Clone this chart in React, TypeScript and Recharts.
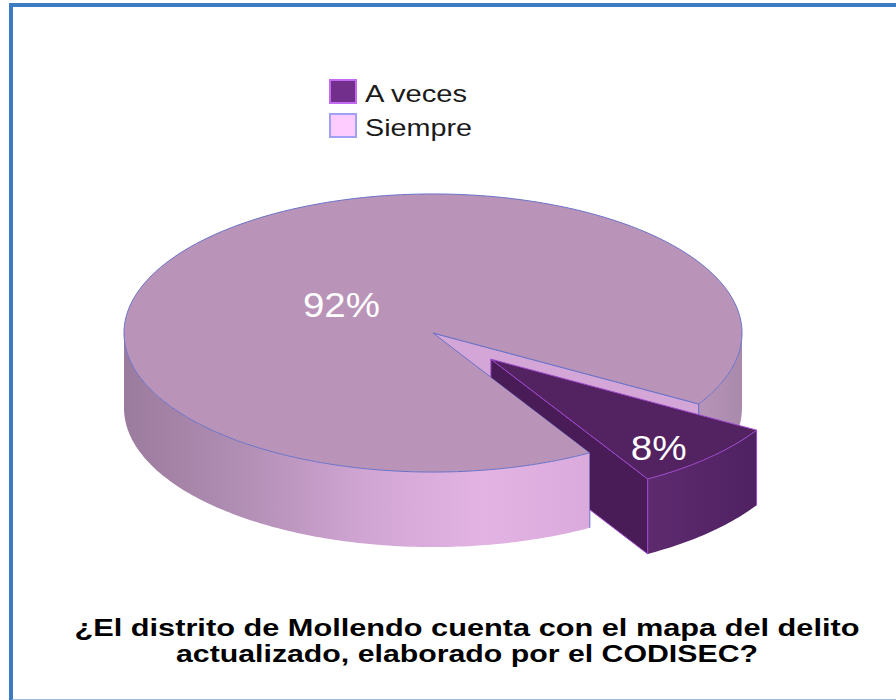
import React from 'react';
import { PieChart, Pie, Legend } from 'recharts';

// ---------- data ----------
const CATEGORIES = ['Siempre', 'A veces'];
const VALUES = [92, 8];
const PERCENT_LABELS = ['92%', '8%'];
const LEGEND_ORDER = ['A veces', 'Siempre'];
const TITLE_LINES = [
  '¿El distrito de Mollendo cuenta con el mapa del delito',
  'actualizado, elaborado por el CODISEC?',
];

const chartData = CATEGORIES.map((name, i) => ({ name, value: VALUES[i], label: PERCENT_LABELS[i] }));

// ---------- geometry / style ----------
const CX = 433;
const CY = 333;
const R = 309;
const K = 0.45; // vertical squash of the 3D ellipse
const DEPTH = 75;
const START_ANGLE = -59.5;
const RAD = Math.PI / 180;

const SLICE_STYLE: Record<string, any> = {
  Siempre: {
    top: '#b994b8', edgeFace: '#d3a6d7', wall: 'url(#wallSiempre)', stroke: '#6a72c9',
    explode: 0, labelR: 0.42, labelW: 77,
    legendFill: '#ffccff', legendStroke: '#a0a0f5', legendW: 107,
  },
  'A veces': {
    top: '#532260', edgeFace: '#4a1c57', wall: 'url(#wallAveces)', stroke: '#9d48cc',
    explode: 82, labelR: 0.77, labelW: 56,
    legendFill: '#722f8c', legendStroke: '#c46af2', legendW: 102,
  },
};

type Pt = [number, number];
const P = (ox: number, oy: number, r: number, deg: number, dz = 0): Pt => [
  ox + r * Math.cos(deg * RAD),
  oy - K * r * Math.sin(deg * RAD) + dz,
];
const arc = (ox: number, oy: number, r: number, a0: number, a1: number, dz = 0): Pt[] => {
  const n = Math.max(2, Math.ceil(Math.abs(a1 - a0)));
  const pts: Pt[] = [];
  for (let i = 0; i <= n; i++) pts.push(P(ox, oy, r, a0 + ((a1 - a0) * i) / n, dz));
  return pts;
};
const toPath = (pts: Pt[]) =>
  pts.map((p, i) => `${i ? 'L' : 'M'}${p[0].toFixed(2)},${p[1].toFixed(2)}`).join('') + 'Z';
const lowerHalf = (lo: number, hi: number) => {
  const segs: [number, number][] = [];
  for (let n = -3; n <= 3; n++) {
    const s = Math.max(lo, -180 + 360 * n);
    const e = Math.min(hi, 360 * n);
    if (e > s) segs.push([s, e]);
  }
  return segs;
};

const renderSlice = (props: any) => {
  const { cx, cy, outerRadius: r, startAngle, endAngle, midAngle, name, payload } = props;
  const st = SLICE_STYLE[name];
  const lo = Math.min(startAngle, endAngle);
  const hi = Math.max(startAngle, endAngle);
  const ox = cx + st.explode * Math.cos(midAngle * RAD);
  const oy = cy - K * st.explode * Math.sin(midAngle * RAD);

  const topPath = toPath([[ox, oy], ...arc(ox, oy, r, lo, hi)]);
  const segs = lowerHalf(lo, hi);
  const wallPaths = segs.map(([s, e]) => toPath([...arc(ox, oy, r, s, e), ...arc(ox, oy, r, e, s, DEPTH)]));
  const cutAngles: number[] = [];
  segs.forEach(([s, e]) => {
    if (s === lo || s === hi) cutAngles.push(s);
    if (e === lo || e === hi) cutAngles.push(e);
  });
  const edgeAngles: number[] = [];
  if (Math.cos(lo * RAD) > 0) edgeAngles.push(lo);
  if (Math.cos(hi * RAD) < 0) edgeAngles.push(hi);
  const edgePaths = edgeAngles.map((a) => {
    const p = P(ox, oy, r, a);
    return toPath([[ox, oy], p, [p[0], p[1] + DEPTH], [ox, oy + DEPTH]]);
  });

  const exploded = st.explode > 0;
  const nb = P(cx, cy, r, lo);
  const clipD = `M${cx},-2000L${cx},${cy}L${nb[0]},${nb[1]}L${nb[0]},${nb[1] + DEPTH}L${nb[0]},3000L3000,3000L3000,-2000Z`;
  const clipId = `clip-${props.index}`;

  const lp = P(ox, oy, r * st.labelR, midAngle);

  return (
    <g>
      {!exploded && (
        <defs>
          <linearGradient id="wallSiempre" gradientUnits="userSpaceOnUse" x1={CX - R} y1={0} x2={CX + R} y2={0}>
            <stop offset="0" stopColor="#9b7b9d" />
            <stop offset="0.18" stopColor="#b08db3" />
            <stop offset="0.4" stopColor="#d2a6d4" />
            <stop offset="0.58" stopColor="#e2b3e3" />
            <stop offset="0.76" stopColor="#d9aadb" />
            <stop offset="0.9" stopColor="#bd98bf" />
            <stop offset="1" stopColor="#a98aab" />
          </linearGradient>
          <linearGradient id="wallAveces" gradientUnits="userSpaceOnUse" x1={640} y1={0} x2={770} y2={0}>
            <stop offset="0" stopColor="#5f2b70" />
            <stop offset="1" stopColor="#4d2060" />
          </linearGradient>
        </defs>
      )}
      {exploded && (
        <defs>
          <clipPath id={clipId}>
            <path d={clipD} />
          </clipPath>
        </defs>
      )}
      <g clipPath={exploded ? `url(#${clipId})` : undefined}>
        {edgePaths.map((d, i) => (
          <path key={`e${i}`} d={d} fill={st.edgeFace} stroke={st.stroke} strokeWidth={1} strokeLinejoin="round" />
        ))}
      </g>
      {wallPaths.map((d, i) => (
        <path key={`w${i}`} d={d} fill={st.wall} stroke="none" />
      ))}
      {cutAngles.map((a, i) => {
        const p = P(ox, oy, r, a);
        return <line key={`c${i}`} x1={p[0]} y1={p[1]} x2={p[0]} y2={p[1] + DEPTH} stroke={st.stroke} strokeWidth={1} />;
      })}
      <path d={topPath} fill={st.top} stroke={st.stroke} strokeWidth={1} strokeLinejoin="round" />
      <text
        x={lp[0]}
        y={lp[1] + 13}
        textAnchor="middle"
        dominantBaseline="central"
        fill="#ffffff"
        fontSize={35}
        fontFamily="'Liberation Sans', Arial, sans-serif"
        textLength={st.labelW}
        lengthAdjust="spacingAndGlyphs"
      >
        {payload?.label ?? props.label}
      </text>
    </g>
  );
};

const renderLegend = (props: any) => {
  const names: string[] = (props.payload ?? []).map((p: any) => p.value);
  const list = LEGEND_ORDER.filter((n) => names.length === 0 || names.includes(n));
  return (
    <svg width={220} height={75}>
      {list.map((n, i) => {
        const st = SLICE_STYLE[n];
        return (
          <g key={n} transform={`translate(0, ${i * 34})`}>
            <rect x={6} y={6} width={26} height={23} fill={st.legendFill} stroke={st.legendStroke} strokeWidth={2} />
            <text
              x={41}
              y={28}
              fontSize={24}
              fill="#1a1a1a"
              fontFamily="'Liberation Sans', Arial, sans-serif"
              textLength={st.legendW}
              lengthAdjust="spacingAndGlyphs"
            >
              {n}
            </text>
          </g>
        );
      })}
    </svg>
  );
};

export default function App() {
  return (
    <div style={{ position: 'absolute', left: 0, top: 0, width: 896, height: 700, overflow: 'hidden', background: '#ffffff' }}>
      {/* frame */}
      <div
        style={{
          position: 'absolute', left: 9, top: 3, width: 1000, height: 692,
          borderTop: '4px solid #3b7bc2', borderLeft: '4px solid #3b7bc2', borderBottom: '2px solid #9dbbe0',
        }}
      />
      <div style={{ position: 'absolute', left: 0, top: 0 }}>
        <PieChart width={896} height={700} margin={{ top: 0, right: 0, bottom: 0, left: 0 }}>
          <Pie
            data={chartData}
            dataKey="value"
            nameKey="name"
            cx={CX}
            cy={CY}
            innerRadius={0}
            outerRadius={R}
            startAngle={START_ANGLE}
            endAngle={START_ANGLE - 360}
            fill="none"
            stroke="none"
            isAnimationActive={false}
            labelLine={false}
            label={renderSlice}
            legendType="square"
          />
          <Legend
            verticalAlign="bottom"
            content={renderLegend}
            wrapperStyle={{ position: 'absolute', left: 324, top: 74, width: 220, height: 75, bottom: 'auto' }}
          />
        </PieChart>
      </div>
      <svg width={896} height={700} style={{ position: 'absolute', left: 0, top: 0, pointerEvents: 'none' }}>
        {TITLE_LINES.map((t, i) => (
          <text
            key={i}
            x={467}
            y={636 + i * 26}
            textAnchor="middle"
            fontSize={23}
            fontWeight="bold"
            fill="#000000"
            fontFamily="'Liberation Sans Narrow', 'Arial Narrow', 'Liberation Sans', Arial, sans-serif"
            textLength={i === 0 ? 785 : 582}
            lengthAdjust="spacingAndGlyphs"
          >
            {t}
          </text>
        ))}
      </svg>
    </div>
  );
}
